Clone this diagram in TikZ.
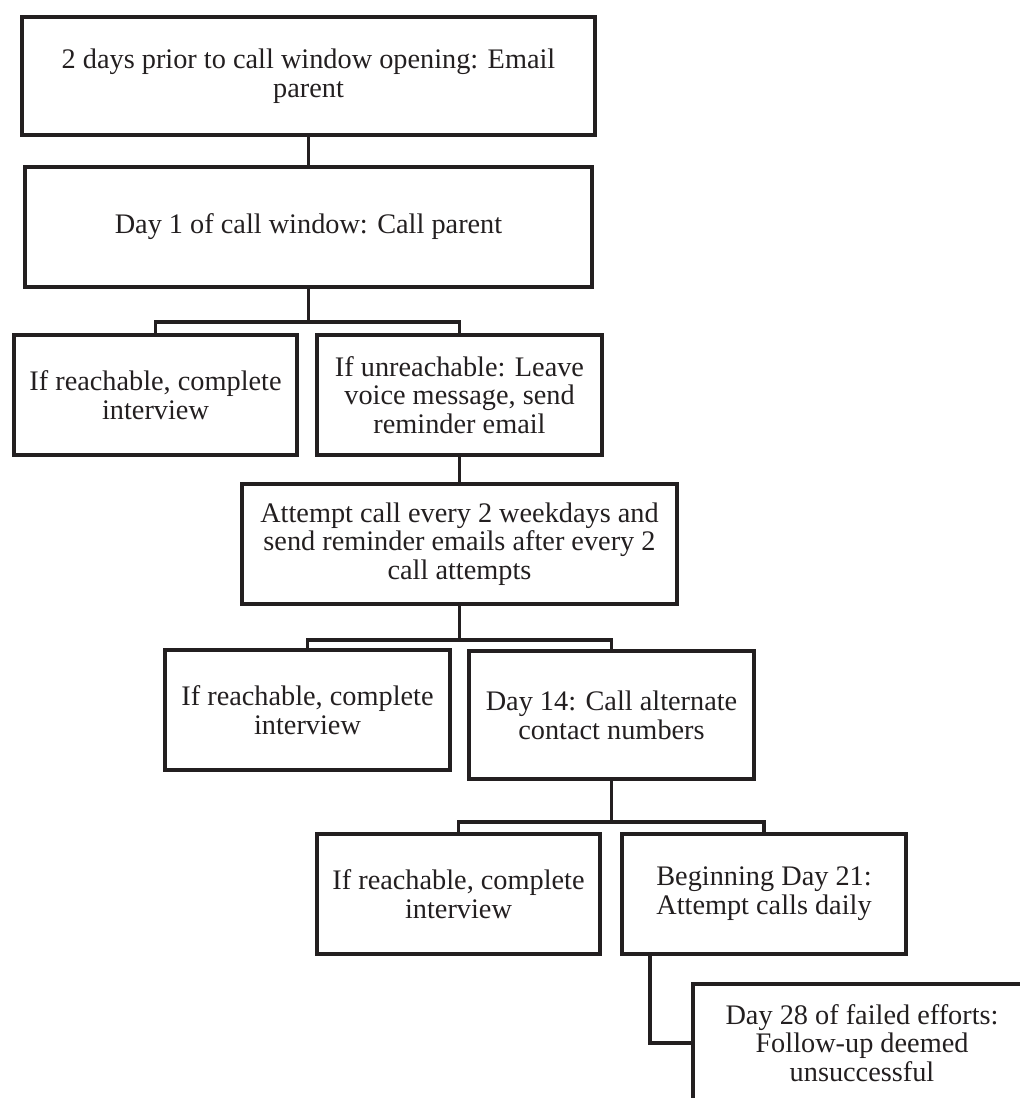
\documentclass[tikz,border=0pt]{standalone}
\usepackage{fontspec}
\setmainfont{Liberation Serif}
\definecolor{ink}{HTML}{231F20}
\begin{document}
\begin{tikzpicture}[x=1pt,y=1pt,
  box/.style={draw=ink, line width=4pt, text=ink, align=center, inner sep=0pt,
    anchor=north west, font=\fontsize{28.3}{28.7}\selectfont},
  conn/.style={draw=ink, line width=3.6pt}]
\useasboundingbox (0,0) rectangle (1020,-1098);
\node[box, minimum width=573, minimum height=118] (b1) at (20,-15) {2 days prior to call window opening: Email\\parent};
\node[box, minimum width=567, minimum height=120] (b2) at (23,-165) {Day 1 of call window: Call parent};
\node[box, minimum width=283, minimum height=120] (b3) at (12,-333) {If reachable, complete\\interview};
\node[box, minimum width=285, minimum height=120] (b4) at (315,-333) {If unreachable: Leave\\voice message, send\\reminder email};
\node[box, minimum width=435, minimum height=120] (b5) at (240,-482) {Attempt call every 2 weekdays and\\send reminder emails after every 2\\call attempts};
\node[box, minimum width=285, minimum height=120] (b6) at (163,-648) {If reachable, complete\\interview};
\node[box, minimum width=285, minimum height=128] (b7) at (467,-649) {Day 14: Call alternate\\contact numbers};
\node[box, minimum width=283, minimum height=120] (b8) at (315,-832) {If reachable, complete\\interview};
\node[box, minimum width=284, minimum height=120] (b9) at (620,-832) {Beginning Day 21:\\Attempt calls daily};
\node[box, minimum width=338, minimum height=118] (b10) at (691,-982) {Day 28 of failed efforts:\\Follow-up deemed\\unsuccessful};
% connectors
\draw[conn] (b1.south) -- (b2.north);
\draw[conn] (b2.south) -- (b2.south |- 0,-322);
\draw[conn] (b3.north) -- (b3.north |- 0,-322) -- (b4.north |- 0,-322) -- (b4.north);
\draw[conn] (b4.south) -- (b5.north);
\draw[conn] (b5.south) -- (b5.south |- 0,-640);
\draw[conn] (b6.north) -- (b6.north |- 0,-640) -- (b7.north |- 0,-640) -- (b7.north);
\draw[conn] (b7.south) -- (b7.south |- 0,-822);
\draw[conn] (b8.north) -- (b8.north |- 0,-822) -- (b9.north |- 0,-822) -- (b9.north);
\draw[conn] ([xshift=30]b9.south west) |- (b10.west);
\end{tikzpicture}
\end{document}
